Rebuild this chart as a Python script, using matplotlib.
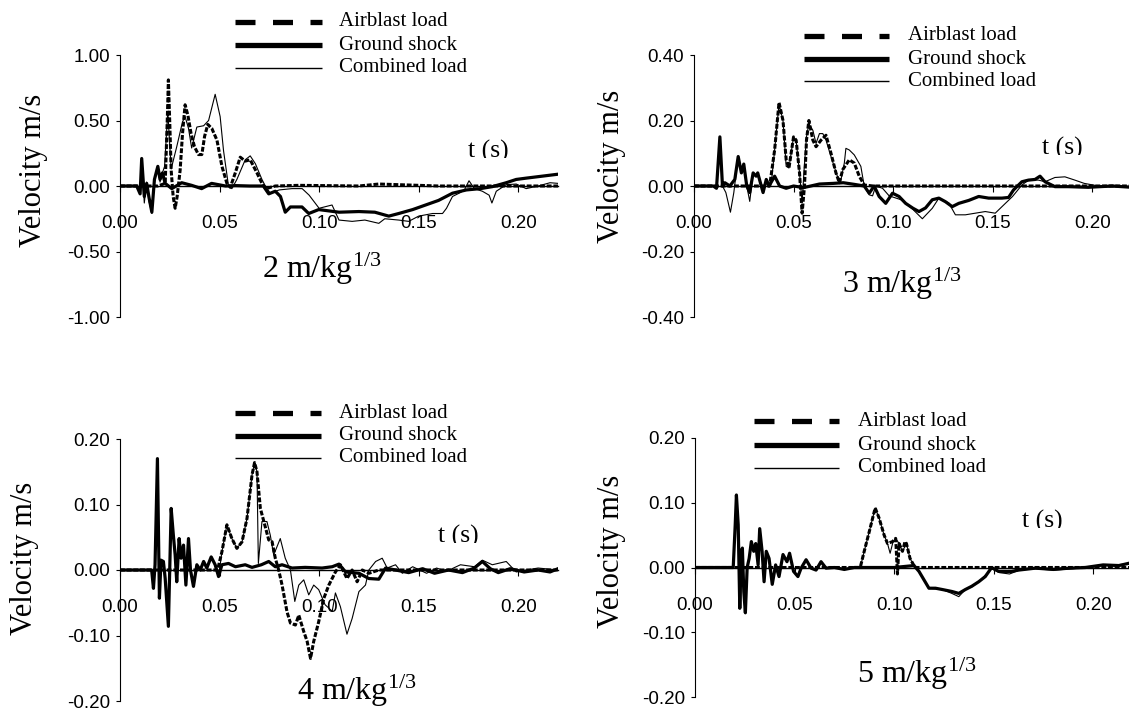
import matplotlib
matplotlib.use("Agg")
import matplotlib.pyplot as plt
from matplotlib.lines import Line2D
from matplotlib.transforms import Bbox, TransformedBbox

# ---- data (t in s, velocity in m/s) ----
# 2 m/kg^1/3
t_air_2 = [0, 0.019, 0.0227, 0.0238, 0.0243, 0.025, 0.0257, 0.0267, 0.0277, 0.0287, 0.0302, 0.0314, 0.0327,
           0.0341, 0.0357, 0.0374, 0.0394, 0.0411, 0.0425, 0.0441, 0.0461, 0.0487, 0.0512, 0.0537, 0.0554,
           0.0579, 0.0604, 0.0629, 0.0654, 0.0688, 0.0713, 0.0733, 0.078, 0.09, 0.12, 0.13, 0.16, 0.22]
v_air_2 = [0, 0, 0.02, 0.53, 0.81, 0.48, 0.12, -0.08, -0.17, -0.08, 0.12, 0.40, 0.62,
           0.54, 0.40, 0.30, 0.24, 0.24, 0.38, 0.47, 0.44, 0.35, 0.15, 0.02, -0.01,
           0.10, 0.22, 0.19, 0.20, 0.10, 0.02, -0.02, 0.0, 0.005, 0.0, 0.015, 0.0, 0.0]
t_gs_2 = [0, 0.0084, 0.0101, 0.0109, 0.0122, 0.0134, 0.0146, 0.016, 0.0173, 0.019, 0.0201, 0.0213, 0.0227,
          0.026, 0.031, 0.036, 0.041, 0.046, 0.053, 0.058, 0.065, 0.072, 0.0747, 0.078, 0.0806, 0.083,
          0.0856, 0.0914, 0.0948, 0.0998, 0.11, 0.12, 0.128, 0.135, 0.14, 0.147, 0.1535, 0.16, 0.167,
          0.174, 0.181, 0.187, 0.194, 0.199, 0.204, 0.212, 0.22]
v_gs_2 = [0, 0, -0.06, 0.21, -0.08, 0.02, -0.09, -0.20, 0.05, 0.15, 0.05, 0.10, 0.02,
          -0.02, 0.025, 0.005, -0.02, 0.02, 0.0, 0.003, 0.0, 0.0, -0.06, -0.04, -0.08, -0.20,
          -0.16, -0.16, -0.21, -0.18, -0.20, -0.195, -0.20, -0.23, -0.21, -0.18, -0.145, -0.11, -0.055,
          -0.03, -0.02, -0.005, 0.025, 0.05, 0.06, 0.075, 0.09]
t_cb_2 = [0, 0.0084, 0.0101, 0.0109, 0.0122, 0.0134, 0.0146, 0.016, 0.0173, 0.019, 0.0201, 0.0213, 0.0224,
          0.024, 0.0257, 0.0285, 0.0314, 0.0327, 0.0344, 0.036, 0.0386, 0.042, 0.0445, 0.0478, 0.0503,
          0.052, 0.0545, 0.0562, 0.0587, 0.0629, 0.0654, 0.068, 0.0713, 0.073, 0.0755, 0.08, 0.0864,
          0.0915, 0.095, 0.098, 0.1, 0.1065, 0.11, 0.1166, 0.123, 0.13, 0.133, 0.14, 0.145, 0.15, 0.157,
          0.162, 0.164, 0.167, 0.171, 0.173, 0.1753, 0.178, 0.182, 0.1854, 0.1868, 0.189, 0.194, 0.199,
          0.204, 0.21, 0.216, 0.22]
v_cb_2 = [0, 0, -0.06, 0.21, -0.13, 0.03, -0.12, -0.21, 0.03, 0.15, 0.03, 0.10, 0.15,
          0.57, 0.13, 0.30, 0.49, 0.53, 0.44, 0.29, 0.45, 0.46, 0.50, 0.70, 0.53,
          0.27, 0.0, -0.02, 0.05, 0.20, 0.23, 0.17, 0.05, 0.0, -0.055, -0.03, -0.02,
          -0.02, -0.07, -0.13, -0.17, -0.145, -0.26, -0.27, -0.26, -0.285, -0.25, -0.26, -0.27, -0.23, -0.21,
          -0.21, -0.17, -0.08, -0.05, -0.03, 0.04, -0.02, -0.04, -0.07, -0.13, -0.04, 0.01, 0.015,
          -0.02, 0.0, 0.025, 0.02]

# 3 m/kg^1/3
t_air_3 = [0, 0.038, 0.0405, 0.0427, 0.0447, 0.0463, 0.0477, 0.05, 0.0513, 0.053, 0.0543, 0.0555, 0.0565,
           0.0577, 0.0597, 0.0613, 0.0638, 0.0663, 0.0688, 0.0713, 0.073, 0.0747, 0.078, 0.0805, 0.083,
           0.0855, 0.09, 0.22]
v_air_3 = [0, 0, 0.11, 0.255, 0.20, 0.08, 0.055, 0.15, 0.14, 0.04, -0.083, 0.0, 0.14,
           0.20, 0.14, 0.12, 0.14, 0.155, 0.10, 0.04, 0.01, 0.05, 0.08, 0.07, 0.03,
           0.003, 0.0, 0.0]
t_gs_3 = [0, 0.0097, 0.0113, 0.013, 0.0143, 0.0155, 0.018, 0.0205, 0.0222, 0.0238, 0.025, 0.0265, 0.028,
          0.0297, 0.0312, 0.032, 0.0347, 0.0363, 0.0377, 0.0405, 0.043, 0.0463, 0.05, 0.055, 0.063, 0.07,
          0.075, 0.0805, 0.0855, 0.088, 0.0905, 0.093, 0.0963, 0.0997, 0.103, 0.1063, 0.11, 0.113, 0.1163,
          0.1197, 0.123, 0.1263, 0.1297, 0.133, 0.138, 0.143, 0.148, 0.1547, 0.158, 0.1605, 0.1647, 0.168,
          0.1713, 0.1738, 0.1763, 0.1813, 0.188, 0.198, 0.21, 0.22]
v_gs_3 = [0, 0, -0.007, 0.15, 0.0, 0.01, 0.0, 0.02, 0.09, 0.04, 0.067, 0.0, -0.02,
          0.04, 0.03, 0.04, -0.02, 0.02, 0.0, 0.03, 0.0, -0.007, 0.0, -0.005, 0.006, 0.008,
          0.01, 0.005, 0.0, -0.022, 0.0, -0.032, -0.053, -0.022, -0.032, -0.053, -0.068, -0.078, -0.067,
          -0.042, -0.037, -0.048, -0.063, -0.053, -0.044, -0.032, -0.037, -0.037, -0.035, -0.012, 0.013, 0.018,
          0.02, 0.03, 0.013, -0.002, -0.002, -0.004, 0.0, -0.004]
t_cb_3 = [0, 0.0097, 0.0113, 0.013, 0.0143, 0.016, 0.0183, 0.02, 0.0222, 0.0238, 0.025, 0.0265, 0.028,
          0.0297, 0.0312, 0.032, 0.0347, 0.0363, 0.0377, 0.039, 0.0405, 0.0427, 0.0447, 0.0463, 0.0477,
          0.05, 0.0513, 0.053, 0.0543, 0.0553, 0.0565, 0.0577, 0.0597, 0.0613, 0.063, 0.0647, 0.0663,
          0.0688, 0.072, 0.0735, 0.0755, 0.0763, 0.078, 0.0805, 0.0838, 0.0855, 0.088, 0.0897, 0.0913,
          0.0947, 0.098, 0.104, 0.1097, 0.1147, 0.1197, 0.123, 0.128, 0.1313, 0.1363, 0.1413, 0.1463,
          0.1513, 0.1547, 0.16, 0.1647, 0.168, 0.173, 0.1763, 0.1813, 0.1863, 0.1913, 0.196, 0.205, 0.22]
v_cb_3 = [0, 0, -0.007, 0.15, 0.0, -0.02, -0.08, -0.02, 0.09, 0.04, 0.067, 0.0, -0.047,
          0.04, 0.03, 0.04, -0.02, 0.02, 0.0, 0.02, 0.11, 0.25, 0.20, 0.06, 0.055,
          0.15, 0.14, 0.04, -0.05, 0.05, 0.15, 0.19, 0.17, 0.13, 0.16, 0.16, 0.14,
          0.09, 0.03, 0.01, 0.07, 0.115, 0.11, 0.095, 0.06, 0.0, -0.027, -0.03, 0.0,
          -0.007, -0.03, -0.042, -0.07, -0.10, -0.068, -0.037, -0.052, -0.088, -0.088, -0.083, -0.078,
          -0.083, -0.063, -0.032, 0.003, 0.018, 0.018, 0.013, 0.026, 0.028, 0.018, 0.008, -0.002, -0.002]

# 4 m/kg^1/3
t_early_4 = [0, 0.0159, 0.0168, 0.0176, 0.0188, 0.0198, 0.0206, 0.0218, 0.0227, 0.0243, 0.0257, 0.0268,
             0.0277, 0.0285, 0.0297, 0.0307, 0.0319, 0.0331, 0.0344, 0.0354, 0.0369, 0.0386, 0.0403, 0.042,
             0.0436, 0.0458, 0.0478, 0.0495]
v_early_4 = [0, 0, -0.028, 0.008, 0.17, -0.043, 0.015, 0.013, -0.013, -0.086, 0.094, 0.053,
             0.023, -0.018, 0.048, 0.018, 0.038, -0.023, 0.048, 0.0, -0.025, 0.008, 0.0, 0.013,
             0.003, 0.02, 0.008, -0.01]
t_air_4 = [0, 0.049, 0.0512, 0.0537, 0.0562, 0.0587, 0.0613, 0.0638, 0.0663, 0.0676, 0.0688, 0.0705, 0.0727,
           0.0747, 0.0764, 0.078, 0.0797, 0.0814, 0.0839, 0.0856, 0.0881, 0.0898, 0.0923, 0.094, 0.0957,
           0.0973, 0.0998, 0.1024, 0.1049, 0.1082, 0.1107, 0.1124, 0.114, 0.1166, 0.1191, 0.1217, 0.125,
           0.13, 0.22]
v_air_4 = [0, 0, 0.028, 0.069, 0.048, 0.033, 0.043, 0.079, 0.145, 0.164, 0.15, 0.094, 0.069,
           0.046, 0.043, 0.018, 0.0, -0.023, -0.064, -0.081, -0.084, -0.069, -0.094, -0.109, -0.135,
           -0.109, -0.079, -0.043, -0.023, -0.003, 0.008, -0.003, -0.013, 0.0, -0.018, 0.0, -0.005,
           0.0, 0.0]
t_gs_4 = t_early_4 + [0.0512, 0.0545, 0.058, 0.0629, 0.0663, 0.071, 0.0747, 0.078, 0.0814, 0.0864, 0.093,
                      0.1015, 0.1066, 0.11, 0.1133, 0.12, 0.125, 0.13, 0.1334, 0.1384, 0.145, 0.152, 0.158,
                      0.165, 0.172, 0.178, 0.182, 0.186, 0.19, 0.196, 0.203, 0.21, 0.216, 0.22]
v_gs_4 = v_early_4 + [0.008, 0.01, 0.005, 0.008, 0.004, 0.008, 0.013, 0.005, 0.008, 0.003, 0.004,
                      0.003, 0.005, 0.009, -0.003, -0.005, -0.013, -0.014, 0.003, 0.0, -0.004, 0.002, -0.005,
                      0.0, -0.004, 0.003, 0.013, 0.002, -0.004, 0.002, -0.003, 0.0, -0.003, 0.002]
t_cb_4 = t_early_4 + [0.0512, 0.0537, 0.0562, 0.0587, 0.0613, 0.0638, 0.0663, 0.0676, 0.0688, 0.0695, 0.0713,
                      0.0738, 0.0755, 0.0772, 0.0805, 0.083, 0.0856, 0.0878, 0.0898, 0.0923, 0.0948, 0.0973,
                      0.0998, 0.103, 0.1066, 0.1082, 0.1107, 0.114, 0.1166, 0.12, 0.1233, 0.125, 0.1284,
                      0.1317, 0.1342, 0.1384, 0.1418, 0.147, 0.154, 0.159, 0.164, 0.171, 0.178, 0.182, 0.187,
                      0.194, 0.199, 0.204, 0.21, 0.22]
v_cb_4 = v_early_4 + [0.028, 0.069, 0.048, 0.033, 0.043, 0.079, 0.145, 0.164, 0.15, 0.01, 0.074,
                      0.074, 0.053, 0.023, 0.048, 0.018, 0.0, -0.048, -0.023, -0.015, -0.038, -0.023,
                      -0.03, -0.053, -0.063, -0.035, -0.056, -0.098, -0.074, -0.033, -0.023, 0.0, 0.013,
                      0.018, 0.003, 0.008, -0.005, 0.005, -0.005, 0.003, -0.002, 0.008, 0.005, 0.015, 0.008,
                      0.013, -0.003, 0.0, 0.003, 0.0]

# 5 m/kg^1/3
t_early_5 = [0, 0.0192, 0.0202, 0.0208, 0.0217, 0.0225, 0.0233, 0.0238, 0.0245, 0.0253, 0.0262, 0.0272,
             0.0283, 0.0295, 0.0305, 0.0317, 0.0325, 0.0337, 0.0347, 0.0358, 0.0372, 0.0388, 0.0405, 0.0422,
             0.0442, 0.0462, 0.0475, 0.0495, 0.0517, 0.0533, 0.0558, 0.0583, 0.0608, 0.0633, 0.0658, 0.07,
             0.075, 0.08]
v_early_5 = [0, 0, 0.066, 0.112, 0.066, -0.063, 0.025, 0.03, -0.037, -0.07, 0.0, 0.014,
             0.04, 0.025, 0.037, 0.004, 0.06, 0.025, -0.022, 0.025, 0.014, -0.026, 0.004, -0.014,
             0.02, 0.009, 0.022, -0.006, -0.014, -0.001, 0.012, -0.001, -0.004, 0.009, -0.001, 0.0,
             -0.003, 0.0]
t_air_5 = [0, 0.083, 0.085, 0.0875, 0.0905, 0.0925, 0.095, 0.0967, 0.0992, 0.1008, 0.1017, 0.1025, 0.1042,
           0.1055, 0.1062, 0.108, 0.1105, 0.22]
v_air_5 = [0, 0, 0.025, 0.055, 0.092, 0.076, 0.05, 0.037, 0.04, 0.045, -0.01, 0.037, 0.025,
           0.04, 0.037, 0.014, 0.0, 0.0]
t_gs_5 = t_early_5 + [0.085, 0.1, 0.11, 0.1125, 0.1175, 0.1208, 0.1242, 0.129, 0.1325, 0.1358, 0.139, 0.1425,
                      0.1458, 0.149, 0.1525, 0.159, 0.1625, 0.171, 0.18, 0.188, 0.196, 0.205, 0.213, 0.22]
v_gs_5 = v_early_5 + [0.0, 0.0, 0.003, -0.006, -0.032, -0.032, -0.034, -0.037, -0.04, -0.034, -0.029, -0.022,
                      -0.014, 0.0, -0.006, -0.006, -0.004, -0.001, -0.003, -0.001, 0.0, 0.004, 0.003, 0.008]
t_cb_5 = t_early_5 + [0.083, 0.085, 0.0875, 0.0905, 0.0925, 0.095, 0.0967, 0.098, 0.0995, 0.1008, 0.1025,
                      0.1042, 0.1062, 0.108, 0.11, 0.1125, 0.1175, 0.1242, 0.129, 0.1325, 0.1358, 0.139,
                      0.1425, 0.1458, 0.149, 0.153, 0.158, 0.163, 0.171, 0.18, 0.19, 0.2, 0.21, 0.22]
v_cb_5 = v_early_5 + [0.0, 0.025, 0.055, 0.092, 0.076, 0.05, 0.037, 0.022, 0.04, 0.045, 0.037,
                      0.025, 0.037, 0.014, 0.003, -0.006, -0.032, -0.034, -0.04, -0.045, -0.034, -0.03,
                      -0.022, -0.012, -0.002, -0.008, -0.01, -0.004, -0.002, -0.004, -0.002, 0.002, 0.004, 0.006]

x_ticks = [0.0, 0.05, 0.10, 0.15, 0.20]
y_ticks_2 = [-1.0, -0.5, 0.0, 0.5, 1.0]
y_ticks_3 = [-0.4, -0.2, 0.0, 0.2, 0.4]
y_ticks_4 = [-0.2, -0.1, 0.0, 0.1, 0.2]
y_ticks_5 = [-0.2, -0.1, 0.0, 0.1, 0.2]
distances = ["2", "3", "4", "5"]
legend_labels = ["Airblast load", "Ground shock", "Combined load"]

plt.rcParams["lines.scale_dashes"] = False
plt.rcParams["axes.unicode_minus"] = False
plt.rcParams["mathtext.fontset"] = "custom"
plt.rcParams["mathtext.rm"] = "Liberation Serif"
plt.rcParams["mathtext.it"] = "Liberation Serif:italic"

W, H = 1129, 710
fig = plt.figure(figsize=(W / 100, H / 100), dpi=100)
serif = "Liberation Serif"
tickfont = ["Liberation Sans Narrow", "Liberation Sans"]


def fx(x):
    return x / W


def fy(y):
    return 1 - y / H


# per panel layout, in pixels of the 1129x710 picture
panels = [
    dict(box=(120, 55, 558, 317), yt=y_ticks_2, d=(t_air_2, v_air_2, t_gs_2, v_gs_2, t_cb_2, v_cb_2),
         leg=(235, 322, 339, [22, 45, 68]), ylab=(34, 170), ts=(468, 158), ann=(262, 278)),
    dict(box=(694, 55, 1132, 317), yt=y_ticks_3, d=(t_air_3, v_air_3, t_gs_3, v_gs_3, t_cb_3, v_cb_3),
         leg=(804, 889, 908, [36, 59, 81]), ylab=(612, 166), ts=(1042, 155), ann=(842, 293)),
    dict(box=(120, 439, 558, 701), yt=y_ticks_4, d=(t_air_4, v_air_4, t_gs_4, v_gs_4, t_cb_4, v_cb_4),
         leg=(235, 321, 339, [413, 436, 458]), ylab=(25, 558), ts=(438, 543), ann=(297, 700)),
    dict(box=(695, 438, 1133, 697), yt=y_ticks_5, d=(t_air_5, v_air_5, t_gs_5, v_gs_5, t_cb_5, v_cb_5),
         leg=(754, 839, 858, [421, 445, 468]), ylab=(612, 551), ts=(1022, 528), ann=(857, 683)),
]

for p, dist in zip(panels, distances):
    x0, y0, x1, y1 = p["box"]
    ax = fig.add_axes([fx(x0), fy(y1), (x1 - x0) / W, (y1 - y0) / H])
    ta, va, tg, vg, tc, vc = p["d"]
    ax.plot(tc, vc, color="black", lw=0.8, zorder=3)
    ax.plot(ta, va, color="black", lw=2.2, dashes=(3.5, 1.3), zorder=4)
    ax.plot(tg, vg, color="black", lw=2.3, zorder=5)

    ax.set_xlim(0, 0.22)
    ax.set_ylim(p["yt"][0], p["yt"][-1])
    ax.spines["top"].set_visible(False)
    ax.spines["right"].set_visible(False)
    ax.spines["bottom"].set_position(("data", 0))
    ax.spines["bottom"].set_linewidth(1.0)
    ax.spines["left"].set_linewidth(0.8)
    ax.set_xticks(x_ticks)
    ax.set_xticklabels([f"{v:.2f}" for v in x_ticks])
    ax.set_yticks(p["yt"])
    ax.set_yticklabels([f"{v:.2f}" for v in p["yt"]])
    ax.tick_params(axis="y", direction="out", length=3, width=0.8, pad=4, labelsize=13.5)
    ax.tick_params(axis="x", direction="out", length=4, width=0.8, pad=17, labelsize=13.5)
    for lab in ax.get_xticklabels() + ax.get_yticklabels():
        lab.set_fontfamily(tickfont)
    ax.patch.set_visible(False)

    # legend drawn by hand
    lx0, lx1, tx, rows = p["leg"]
    styles = [dict(lw=3.8, dashes=(14.4, 12.6)), dict(lw=3.8), dict(lw=1.0)]
    for r, st, lab in zip(rows, styles, legend_labels):
        fig.add_artist(Line2D([fx(lx0), fx(lx1)], [fy(r), fy(r)], transform=fig.transFigure,
                              color="black", solid_capstyle="butt", dash_capstyle="butt", **st))
        fig.text(fx(tx), fy(r), lab, family=serif, fontsize=15, va="center", ha="left")

    fig.text(fx(p["ylab"][0]), fy(p["ylab"][1]), "Velocity m/s", family=serif, fontsize=22,
             rotation=90, ha="center", va="center")

    tsx, tsy = p["ts"]
    txt = fig.text(fx(tsx), fy(tsy), "t (s)", family=serif, fontsize=18.5, ha="left", va="baseline")
    txt.set_clip_on(True)
    txt.set_clip_box(TransformedBbox(Bbox.from_extents(0, fy(tsy), 1, 1), fig.transFigure))

    fig.text(fx(p["ann"][0]), fy(p["ann"][1]), dist + r" m/kg$^{1/3}$", family=serif, fontsize=23,
             ha="left", va="baseline")

fig.savefig("out.png", dpi=100)
